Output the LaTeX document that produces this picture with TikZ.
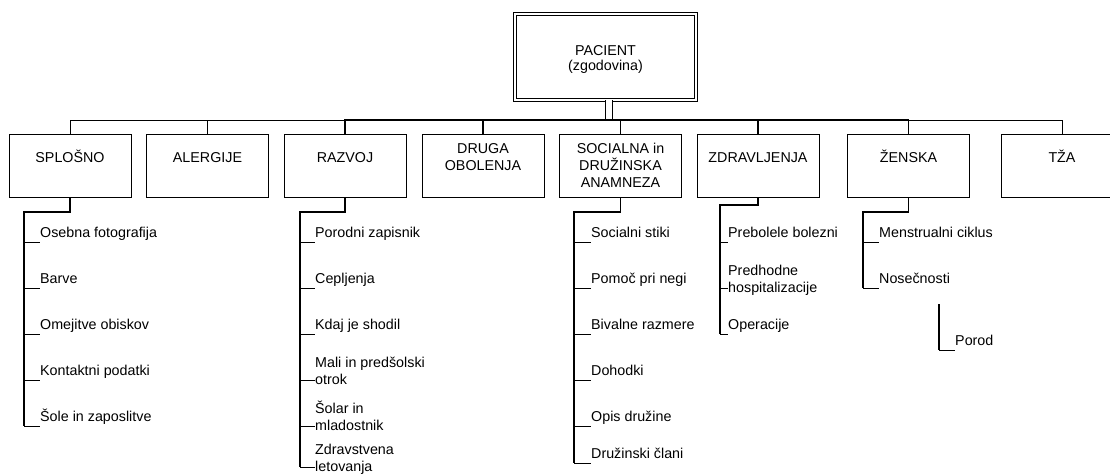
\documentclass[tikz,border=0pt]{standalone}
\usepackage{fontspec}
\setmainfont{Liberation Sans}
\begin{document}
\begin{tikzpicture}[x=1pt,y=-1pt,
  every node/.style={inner sep=0pt, font=\fontsize{14.3}{17}\selectfont},
  rootbox/.style={draw, double, double distance=2.4pt, line width=0.8pt,
    minimum width=181pt, minimum height=86pt},
  roottext/.style={anchor=base, align=center, font=\fontsize{14.3}{15}\selectfont},
  catbox/.style={draw, line width=1pt, minimum width=122pt, minimum height=63pt},
  cattext/.style={anchor=base, align=center},
  leaf/.style={anchor=base west, align=left},
  trunkline/.style={draw, double, double distance=6pt, line width=1pt},
  edge/.style={line width=1pt},
  heavyedge/.style={line width=1.6pt},
  spine/.style={line width=1.5pt},
  tick/.style={line width=0.9pt}
]
\useasboundingbox (0,0) rectangle (1110,475);

% root of the history record
\node[rootbox] (root) at (605.5,57) {};
\node[roottext] (root-t) at ([yshift=-13pt]root.center) {PACIENT\\(zgodovina)};
\coordinate (rootfoot) at ([xshift=3pt]root.south);
\coordinate (bus) at (0,120);

% category boxes
\node[catbox] (splosno) at (70,165.5) {};
\node[catbox] (alergije) at (207.5,165.5) {};
\node[catbox] (razvoj) at (345,165.5) {};
\node[catbox] (druga) at (483,165.5) {};
\node[catbox] (socialna) at (620.5,165.5) {};
\node[catbox] (zdrav) at (758,165.5) {};
\node[catbox] (zenska) at (908.5,165.5) {};
\node[catbox] (tza) at (1062,165.5) {};

% category titles (multi-line titles are placed by their last line)
\node[cattext] (splosno-t) at ([yshift=3.5pt]splosno.center) {SPLOŠNO};
\node[cattext] (alergije-t) at ([yshift=3.5pt]alergije.center) {ALERGIJE};
\node[cattext] (razvoj-t) at ([yshift=3.5pt]razvoj.center) {RAZVOJ};
\node[cattext] (druga-t) at ([yshift=-4.5pt]druga.center) {DRUGA\\OBOLENJA};
\node[cattext] (socialna-t) at ([yshift=-21.5pt]socialna.center) {SOCIALNA in\\DRUŽINSKA\\ANAMNEZA};
\node[cattext] (zdrav-t) at ([yshift=3.5pt]zdrav.center) {ZDRAVLJENJA};
\node[cattext] (zenska-t) at ([yshift=3.5pt]zenska.center) {ŽENSKA};
\node[cattext] (tza-t) at ([yshift=3.5pt]tza.center) {TŽA};

% trunk and bus from the root to the categories
\draw[trunkline] (rootfoot) -- (rootfoot |- bus);
\draw[edge] (rootfoot |- bus) -| (splosno.north);
\draw[edge] (rootfoot |- bus) -| (alergije.north);
\draw[edge] (rootfoot |- bus) -| (tza.north);
\draw[heavyedge] (rootfoot |- bus) -| (razvoj.north);
\draw[heavyedge] (rootfoot |- bus) -| (druga.north);
\draw[heavyedge] (rootfoot |- bus) -| (socialna.north);
\draw[heavyedge] (rootfoot |- bus) -| (zdrav.north);
\draw[heavyedge] (rootfoot |- bus) -| (zenska.north);

% SPLOŠNO items
\coordinate (sTop) at (24,212);
\coordinate (s1) at (40,242);
\coordinate (s2) at (40,288);
\coordinate (s3) at (40,334);
\coordinate (s4) at (40,380);
\coordinate (s5) at (40,426);
\node[leaf] (s1t) at ([yshift=5pt]s1) {Osebna fotografija};
\node[leaf] (s2t) at ([yshift=5pt]s2) {Barve};
\node[leaf] (s3t) at ([yshift=5pt]s3) {Omejitve obiskov};
\node[leaf] (s4t) at ([yshift=5pt]s4) {Kontaktni podatki};
\node[leaf] (s5t) at ([yshift=5pt]s5) {Šole in zaposlitve};
\draw[spine] (splosno.south) |- (sTop) -- (sTop |- s5);
\foreach \k in {s1,s2,s3,s4,s5} \draw[tick] (sTop |- \k) -- (\k);

% RAZVOJ items
\coordinate (rTop) at (300,212);
\coordinate (r1) at (315,242);
\coordinate (r2) at (315,288);
\coordinate (r3) at (315,334);
\coordinate (r4) at (315,380);
\coordinate (r5) at (315,426);
\coordinate (r6) at (315,467);
\node[leaf] (r1t) at ([yshift=5pt]r1) {Porodni zapisnik};
\node[leaf] (r2t) at ([yshift=5pt]r2) {Cepljenja};
\node[leaf] (r3t) at ([yshift=5pt]r3) {Kdaj je shodil};
\node[leaf] (r4t) at ([yshift=-4pt]r4) {Mali in predšolski\\otrok};
\node[leaf] (r5t) at ([yshift=-4pt]r5) {Šolar in\\mladostnik};
\node[leaf] (r6t) at ([yshift=-4pt]r6) {Zdravstvena\\letovanja};
\draw[spine] (razvoj.south) |- (rTop) -- (rTop |- r6);
\foreach \k in {r1,r2,r3,r4,r5,r6} \draw[tick] (rTop |- \k) -- (\k);

% SOCIALNA in DRUŽINSKA ANAMNEZA items
\coordinate (aTop) at (574,212);
\coordinate (a1) at (591,242);
\coordinate (a2) at (591,288);
\coordinate (a3) at (591,334);
\coordinate (a4) at (591,380);
\coordinate (a5) at (591,426);
\coordinate (a6) at (591,463);
\node[leaf] (a1t) at ([yshift=5pt]a1) {Socialni stiki};
\node[leaf] (a2t) at ([yshift=5pt]a2) {Pomoč pri negi};
\node[leaf] (a3t) at ([yshift=5pt]a3) {Bivalne razmere};
\node[leaf] (a4t) at ([yshift=5pt]a4) {Dohodki};
\node[leaf] (a5t) at ([yshift=5pt]a5) {Opis družine};
\node[leaf] (a6t) at ([yshift=5pt]a6) {Družinski člani};
\draw[spine] (socialna.south) |- (aTop) -- (aTop |- a6);
\foreach \k in {a1,a2,a3,a4,a5,a6} \draw[tick] (aTop |- \k) -- (\k);

% ZDRAVLJENJA items
\coordinate (zTop) at (720,205);
\coordinate (z1) at (728,242);
\coordinate (z2) at (728,288);
\coordinate (z3) at (728,334);
\node[leaf] (z1t) at ([yshift=5pt]z1) {Prebolele bolezni};
\node[leaf] (z2t) at ([yshift=-4pt]z2) {Predhodne\\hospitalizacije};
\node[leaf] (z3t) at ([yshift=5pt]z3) {Operacije};
\draw[spine] (zdrav.south) |- (zTop) -- (zTop |- z3);
\foreach \k in {z1,z2,z3} \draw[tick] (zTop |- \k) -- (\k);

% ŽENSKA items
\coordinate (wTop) at (863,212);
\coordinate (w1) at (879,242);
\coordinate (w2) at (879,288);
\node[leaf] (w1t) at ([yshift=5pt]w1) {Menstrualni ciklus};
\node[leaf] (w2t) at ([yshift=5pt]w2) {Nosečnosti};
\draw[spine] (zenska.south) |- (wTop) -- (wTop |- w2);
\foreach \k in {w1,w2} \draw[tick] (wTop |- \k) -- (\k);

% Porod
\coordinate (pTop) at (939,304);
\coordinate (p1) at (955,350);
\node[leaf] (p1t) at ([yshift=5pt]p1) {Porod};
\draw[spine] (pTop) -- (pTop |- p1);
\draw[tick] (pTop |- p1) -- (p1);
\end{tikzpicture}
\end{document}
